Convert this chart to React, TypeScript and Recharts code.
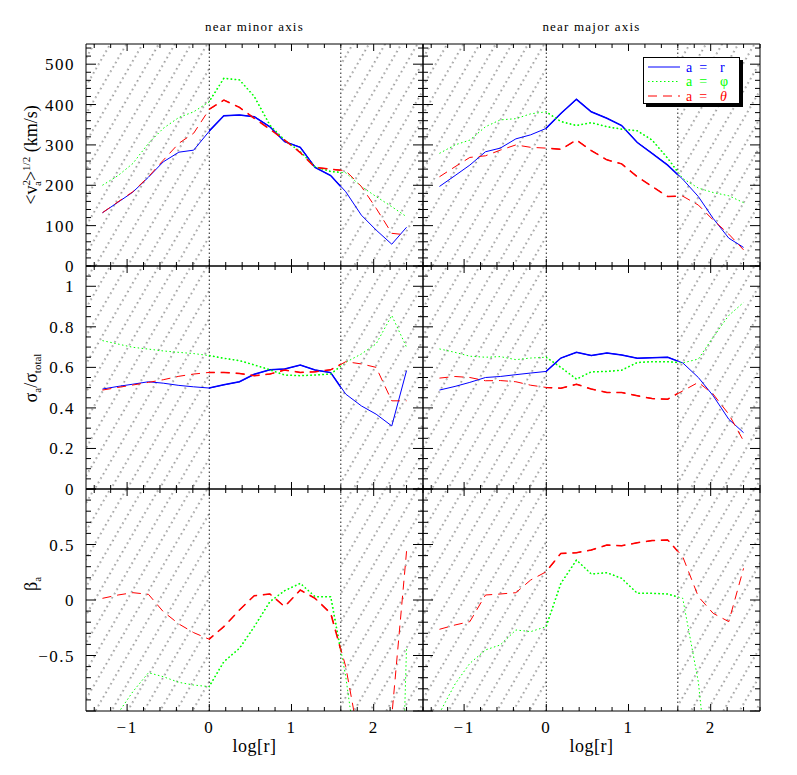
import React from 'react';
import { LineChart, Line, XAxis, YAxis, ReferenceArea, ReferenceLine, Legend } from 'recharts';

// radial bins, log[r]
const logR = [-1.3, -1.11, -0.93, -0.74, -0.56, -0.37, -0.19, 0, 0.18, 0.37, 0.55, 0.74, 0.92, 1.11, 1.29, 1.48, 1.66, 1.85, 2.03, 2.22, 2.4];

// <v_a^2>^1/2 (km/s)
const vMinorR = [132, 158, 183, 220, 258, 282, 287, 334, 372, 374, 370, 345, 308, 294, 244, 224, 184, 126, 89, 54, 96];
const vMinorPhi = [200, 224, 254, 304, 341, 368, 382, 407, 465, 461, 420, 349, 312, 283, 246, 234, 231, 197, 172, 147, 122];
const vMinorTheta = [132, 159, 184, 221, 262, 304, 329, 388, 411, 393, 366, 339, 312, 281, 244, 240, 236, 197, 143, 81, 77];
const vMajorR = [197, 224, 250, 283, 292, 315, 325, 341, 378, 413, 382, 366, 348, 306, 279, 250, 215, 172, 118, 69, 46];
const vMajorPhi = [279, 300, 312, 345, 362, 365, 377, 382, 358, 348, 355, 345, 339, 335, 312, 267, 217, 193, 182, 174, 157];
const vMajorTheta = [221, 246, 269, 273, 287, 300, 294, 292, 289, 312, 286, 263, 253, 221, 197, 172, 173, 151, 114, 79, 40];

// sigma_a / sigma_total
const sMinorR = [0.493, 0.506, 0.517, 0.529, 0.522, 0.511, 0.504, 0.498, 0.514, 0.529, 0.566, 0.588, 0.592, 0.611, 0.587, 0.574, 0.468, 0.41, 0.369, 0.311, 0.584];
const sMinorPhi = [0.732, 0.715, 0.699, 0.69, 0.681, 0.674, 0.668, 0.658, 0.645, 0.633, 0.612, 0.588, 0.562, 0.559, 0.562, 0.567, 0.625, 0.666, 0.716, 0.856, 0.699];
const sMinorTheta = [0.488, 0.501, 0.513, 0.526, 0.539, 0.556, 0.567, 0.575, 0.575, 0.57, 0.559, 0.567, 0.587, 0.575, 0.578, 0.588, 0.628, 0.617, 0.6, 0.435, 0.435];
const sMajorR = [0.488, 0.506, 0.526, 0.55, 0.555, 0.564, 0.572, 0.58, 0.646, 0.674, 0.658, 0.671, 0.661, 0.645, 0.648, 0.65, 0.622, 0.55, 0.46, 0.344, 0.278];
const sMajorPhi = [0.691, 0.674, 0.655, 0.65, 0.653, 0.638, 0.646, 0.65, 0.6, 0.542, 0.578, 0.58, 0.586, 0.624, 0.628, 0.628, 0.622, 0.641, 0.749, 0.856, 0.92];
const sMajorTheta = [0.547, 0.555, 0.55, 0.534, 0.535, 0.529, 0.512, 0.501, 0.497, 0.517, 0.493, 0.476, 0.476, 0.46, 0.446, 0.443, 0.484, 0.526, 0.468, 0.369, 0.237];

// beta_a (no radial beta, only phi and theta)
const bMinorPhi = [-1.5, -1.02, -0.826, -0.655, -0.691, -0.742, -0.766, -0.781, -0.556, -0.435, -0.24, -0.015, 0.084, 0.15, 0.03, 0.03, -0.69, -1.7, -3, -5, -0.42];
const bMinorTheta = [0.015, 0.045, 0.066, 0.051, -0.105, -0.216, -0.294, -0.354, -0.24, -0.09, 0.039, 0.054, -0.06, 0.09, 0.015, -0.12, -0.601, -1.37, -1.6, -1.05, 0.44];
const bMajorPhi = [-1.02, -0.757, -0.571, -0.45, -0.405, -0.27, -0.285, -0.24, 0.15, 0.36, 0.234, 0.246, 0.195, 0.06, 0.06, 0.054, 0.015, -0.74, -2, -2.5, -2];
const bMajorTheta = [-0.264, -0.225, -0.195, 0.045, 0.054, 0.066, 0.18, 0.255, 0.42, 0.426, 0.45, 0.495, 0.489, 0.516, 0.535, 0.541, 0.39, 0.03, -0.12, -0.195, 0.285];

// axes
const xTicks = [-1.4, -1.2, -1, -0.8, -0.6, -0.4, -0.2, 0, 0.2, 0.4, 0.6, 0.8, 1, 1.2, 1.4, 1.6, 1.8, 2, 2.2, 2.4, 2.6];
const xMajor = [-1, 0, 1, 2];
const vTicks = [0, 20, 40, 60, 80, 100, 120, 140, 160, 180, 200, 220, 240, 260, 280, 300, 320, 340, 360, 380, 400, 420, 440, 460, 480, 500, 520, 540];
const vMajor = [0, 100, 200, 300, 400, 500];
const sTicks = [0, 0.05, 0.1, 0.15, 0.2, 0.25, 0.3, 0.35, 0.4, 0.45, 0.5, 0.55, 0.6, 0.65, 0.7, 0.75, 0.8, 0.85, 0.9, 0.95, 1, 1.05, 1.1];
const sMajor = [0, 0.2, 0.4, 0.6, 0.8, 1];
const bTicks = [-1, -0.9, -0.8, -0.7, -0.6, -0.5, -0.4, -0.3, -0.2, -0.1, 0, 0.1, 0.2, 0.3, 0.4, 0.5, 0.6, 0.7, 0.8, 0.9, 1];
const bMajor = [-1, -0.5, 0, 0.5, 1];
const bLabels = [-0.5, 0, 0.5];

const legendRows = [
  { sym: 'r', color: '#0000ff', dash: undefined, italic: false },
  { sym: 'φ', color: '#00ff00', dash: '1.5 2.5', italic: false },
  { sym: 'θ', color: '#ff0000', dash: '9 6', italic: true },
];

const FONT = "'Liberation Serif', 'DejaVu Serif', serif";
const X_DOMAIN: [number, number] = [-1.5, 2.6];
const ML = 90, MR = 30, MT = 40, MB = 60, AX = 10;
const COLS = [{ left: 86, width: 337 }, { left: 423, width: 337 }];
const ROWS = [{ top: 44, height: 222 }, { top: 266, height: 223 }, { top: 489, height: 222 }];

const near = (list: number[], v: number) => list.some((m) => Math.abs(m - v) < 1e-6);
const fmt = (v: number) => String(Math.round(v * 100) / 100).replace('-', '−');

function makeTick(side: string, major: number[], labels: number[], lenMajor: number, lenMinor: number) {
  return (p: any) => {
    const v = p.payload.value;
    const x = p.x, y = p.y;
    const len = near(major, v) ? lenMajor : lenMinor;
    let line;
    if (side === 'bottom') line = <line x1={x} x2={x} y1={y} y2={y - len} />;
    else if (side === 'top') line = <line x1={x} x2={x} y1={y} y2={y + len} />;
    else if (side === 'left') line = <line x1={x} x2={x + len} y1={y} y2={y} />;
    else line = <line x1={x} x2={x - len} y1={y} y2={y} />;
    let label = null;
    if (near(labels, v)) {
      label = side === 'bottom'
        ? <text x={x} y={y + 22} textAnchor="middle" fontSize={17} letterSpacing={1.5} fontFamily={FONT} fill="#000">{fmt(v)}</text>
        : <text x={x - 11} y={y + 6} textAnchor="end" fontSize={17} letterSpacing={1.5} fontFamily={FONT} fill="#000">{fmt(v)}</text>;
    }
    return <g stroke="#000" strokeWidth={1}>{line}<g stroke="none">{label}</g></g>;
  };
}

function LegendBox() {
  return (
    <svg width={102} height={52} style={{ display: 'block' }}>
      <rect x={3} y={3} width={97} height={47} fill="#000" />
      <rect x={0.5} y={0.5} width={96} height={46} fill="#fff" stroke="#000" />
      {legendRows.map((row, i) => {
        const cy = 10 + i * 14.5;
        return (
          <g key={row.sym}>
            <line x1={5} x2={37} y1={cy} y2={cy} stroke={row.color} strokeWidth={1} strokeDasharray={row.dash} />
            <text x={43} y={cy + 4.5} fontSize={14} fontFamily={FONT} fill={row.color}>{'a\u00a0\u00a0='}</text>
            <text x={77} y={cy + 4.5} fontSize={14} fontFamily={FONT} fill={row.color}
              fontStyle={row.italic ? 'italic' : 'normal'}>{row.sym}</text>
          </g>
        );
      })}
    </svg>
  );
}

type PanelCfg = {
  col: number; row: number;
  yDomain: [number, number]; yTicks: number[]; yMajor: number[]; yLabels: number[];
  r?: number[]; phi: number[]; theta: number[];
};

const panels: PanelCfg[] = [
  { col: 0, row: 0, yDomain: [0, 550], yTicks: vTicks, yMajor: vMajor, yLabels: vMajor, r: vMinorR, phi: vMinorPhi, theta: vMinorTheta },
  { col: 1, row: 0, yDomain: [0, 550], yTicks: vTicks, yMajor: vMajor, yLabels: vMajor, r: vMajorR, phi: vMajorPhi, theta: vMajorTheta },
  { col: 0, row: 1, yDomain: [0, 1.1], yTicks: sTicks, yMajor: sMajor, yLabels: sMajor, r: sMinorR, phi: sMinorPhi, theta: sMinorTheta },
  { col: 1, row: 1, yDomain: [0, 1.1], yTicks: sTicks, yMajor: sMajor, yLabels: sMajor, r: sMajorR, phi: sMajorPhi, theta: sMajorTheta },
  { col: 0, row: 2, yDomain: [-1, 1], yTicks: bTicks, yMajor: bMajor, yLabels: bLabels, phi: bMinorPhi, theta: bMinorTheta },
  { col: 1, row: 2, yDomain: [-1, 1], yTicks: bTicks, yMajor: bMajor, yLabels: bLabels, phi: bMajorPhi, theta: bMajorTheta },
];

function seriesLines(cfg: PanelCfg, width: number, axisIds: any) {
  const lines = [];
  if (cfg.r) lines.push(<Line key="r" {...axisIds} dataKey="r" stroke="#0000ff" strokeWidth={width} dot={false} isAnimationActive={false} />);
  lines.push(<Line key="phi" {...axisIds} dataKey="phi" stroke="#00ff00" strokeWidth={width} strokeDasharray="1.5 2.5" dot={false} isAnimationActive={false} />);
  lines.push(<Line key="theta" {...axisIds} dataKey="theta" stroke="#ff0000" strokeWidth={width} strokeDasharray="9 6" dot={false} isAnimationActive={false} />);
  return lines;
}

function Panel({ cfg }: { cfg: PanelCfg }) {
  const { left, width } = COLS[cfg.col];
  const { top, height } = ROWS[cfg.row];
  const k = width / (X_DOMAIN[1] - X_DOMAIN[0]);
  const data = logR.map((x, i) => ({ x, r: cfg.r ? cfg.r[i] : null, phi: cfg.phi[i], theta: cfg.theta[i] }));
  const showX = cfg.row === 2;
  const showY = cfg.col === 0;
  const axisLine = { stroke: '#000', strokeWidth: 1 };
  const ids = { xAxisId: 'b', yAxisId: 'l' };
  return (
    <>
      <div style={{ position: 'absolute', left: left - ML, top: top - MT }}>
        <LineChart width={width + ML + MR} height={height + MT + MB} data={data}
          margin={{ top: MT - AX, right: MR - AX, bottom: MB - AX, left: ML - AX }}>
          <XAxis xAxisId="b" orientation="bottom" type="number" dataKey="x" domain={X_DOMAIN} ticks={xTicks} interval={0}
            height={AX} tickSize={0} tickMargin={0} tickLine={false} axisLine={axisLine} allowDataOverflow
            tick={makeTick('bottom', xMajor, showX ? xMajor : [], 7, 4)} />
          <XAxis xAxisId="t" orientation="top" type="number" dataKey="x" domain={X_DOMAIN} ticks={xTicks} interval={0}
            height={AX} tickSize={0} tickMargin={0} tickLine={false} axisLine={axisLine} allowDataOverflow
            tick={makeTick('top', xMajor, [], 7, 4)} />
          <YAxis yAxisId="l" orientation="left" type="number" domain={cfg.yDomain} ticks={cfg.yTicks} interval={0}
            width={AX} tickSize={0} tickMargin={0} tickLine={false} axisLine={axisLine} allowDataOverflow
            tick={makeTick('left', cfg.yMajor, showY ? cfg.yLabels : [], 10, 5)} />
          <YAxis yAxisId="r" orientation="right" type="number" domain={cfg.yDomain} ticks={cfg.yTicks} interval={0}
            width={AX} tickSize={0} tickMargin={0} tickLine={false} axisLine={axisLine} allowDataOverflow
            tick={makeTick('right', cfg.yMajor, [], 10, 5)} />
          <ReferenceArea {...ids} x1={-1.5} x2={0} fill="url(#hatch)" fillOpacity={1} stroke="none" />
          <ReferenceArea {...ids} x1={1.6} x2={2.6} fill="url(#hatch)" fillOpacity={1} stroke="none" />
          <ReferenceLine {...ids} x={0} stroke="#222" strokeDasharray="1.5 2.5" />
          <ReferenceLine {...ids} x={1.6} stroke="#222" strokeDasharray="1.5 2.5" />
          {seriesLines(cfg, 1, ids)}
          {cfg.row === 0 && cfg.col === 1 && (
            <Legend layout="vertical" align="center" verticalAlign="middle" content={() => <LegendBox />}
              wrapperStyle={{ left: 643 - (left - ML), top: 57 - (top - MT), width: 102, height: 52 }} />
          )}
        </LineChart>
      </div>
      {/* heavier strokes inside the unhatched range 0 < log r < 1.6 */}
      <div style={{ position: 'absolute', left: left + 1.5 * k, top }}>
        <LineChart width={1.6 * k} height={height} data={data} margin={{ top: 0, right: 0, bottom: 0, left: 0 }}>
          <XAxis type="number" dataKey="x" domain={[0, 1.6]} hide allowDataOverflow />
          <YAxis type="number" domain={cfg.yDomain} hide allowDataOverflow />
          {seriesLines(cfg, 1.5, {})}
        </LineChart>
      </div>
    </>
  );
}

export default function App() {
  const tStyle = { fontFamily: FONT, fill: '#000' };
  return (
    <div style={{ position: 'absolute', left: 0, top: 0, width: 797, height: 775, background: '#fff' }}>
      <svg width={0} height={0} style={{ position: 'absolute' }}>
        <defs>
          <pattern id="hatch" patternUnits="userSpaceOnUse" width={14} height={15} patternTransform="rotate(30)">
            <line x1={7} y1={0} x2={7} y2={15} stroke="#222" strokeWidth={0.9} strokeDasharray="1.5 3.5" />
          </pattern>
        </defs>
      </svg>
      {panels.map((cfg) => <Panel key={`${cfg.col}-${cfg.row}`} cfg={cfg} />)}
      <svg width={797} height={775} style={{ position: 'absolute', left: 0, top: 0, pointerEvents: 'none' }}>
        <text x={254.5} y={31} textAnchor="middle" fontSize={13} letterSpacing={1.2} {...tStyle}>near minor axis</text>
        <text x={591.5} y={31} textAnchor="middle" fontSize={13} letterSpacing={1.2} {...tStyle}>near major axis</text>
        <text x={254.5} y={752} textAnchor="middle" fontSize={18} letterSpacing={0.5} {...tStyle}>log[r]</text>
        <text x={591.5} y={752} textAnchor="middle" fontSize={18} letterSpacing={0.5} {...tStyle}>log[r]</text>
        <text transform="translate(37,155) rotate(-90)" textAnchor="middle" fontSize={18} {...tStyle}>
          &lt;v<tspan dy={-7} fontSize={11}>2</tspan><tspan dx={-6} dy={11} fontSize={11}>a</tspan><tspan dy={-4}>&gt;</tspan><tspan dy={-7} fontSize={11}>1/2</tspan><tspan dy={7}> (km/s)</tspan>
        </text>
        <text transform="translate(37,378) rotate(-90)" textAnchor="middle" fontSize={18} {...tStyle}>
          σ<tspan dy={4} fontSize={11}>a</tspan><tspan dy={-4}>/</tspan>σ<tspan dy={4} fontSize={11}>total</tspan>
        </text>
        <text transform="translate(37,584) rotate(-90)" textAnchor="middle" fontSize={18} {...tStyle}>
          β<tspan dy={4} fontSize={11}>a</tspan>
        </text>
      </svg>
    </div>
  );
}
